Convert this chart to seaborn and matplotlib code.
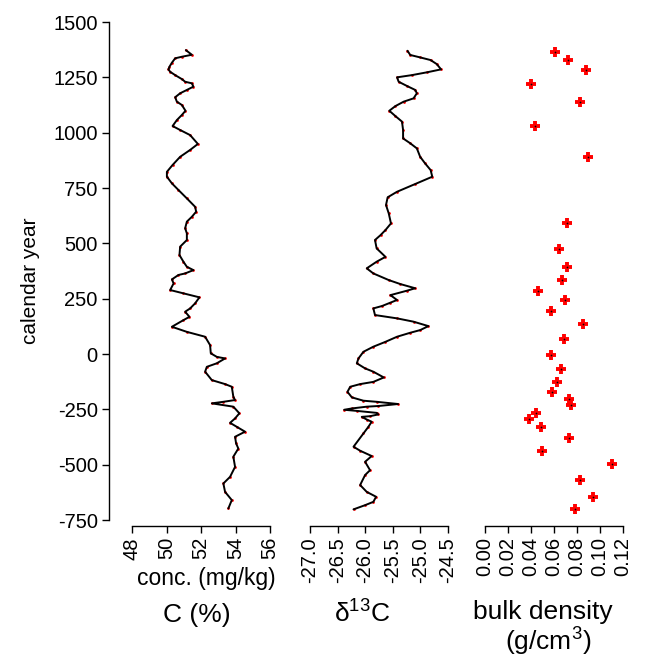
import numpy as np
import pandas as pd
import matplotlib
matplotlib.use("Agg")
import matplotlib.pyplot as plt
import seaborn as sns
from matplotlib.ticker import FormatStrFormatter

# ---------------- data ----------------
c_year = [1373, 1352, 1343, 1336, 1316, 1298, 1286, 1275, 1260, 1242, 1230, 1223, 1208, 1193,
          1178, 1160, 1140, 1125, 1099, 1080, 1057, 1030, 1012, 989, 949, 922, 891, 854, 823,
          801, 771, 741, 703, 665, 643, 620, 598, 568, 545, 515, 485, 447, 417, 394, 379, 364,
          357, 337, 319, 289, 274, 256, 229, 206, 191, 168, 153, 123, 100, 78, 40, 3, -13, -20,
          -42, -58, -80, -118, -136, -148, -193, -208, -216, -223, -238, -268, -291, -311, -329,
          -351, -374, -404, -427, -464, -510, -555, -585, -623, -660, -698]
c_pct = [51.11, 51.46, 50.88, 50.49, 50.30, 50.16, 50.10, 50.20, 50.49, 50.88, 51.07, 51.46,
         51.55, 51.17, 50.78, 50.49, 50.59, 50.88, 51.09, 50.88, 50.59, 50.34, 50.78, 51.36,
         51.81, 51.36, 50.78, 50.34, 50.01, 50.01, 50.30, 50.68, 51.17, 51.65, 51.71, 51.46,
         51.17, 51.07, 51.17, 51.17, 50.78, 50.74, 50.97, 51.17, 51.55, 51.07, 50.68, 50.30,
         50.40, 50.20, 50.97, 51.90, 51.65, 51.36, 51.07, 51.32, 50.97, 50.30, 51.17, 52.23,
         52.52, 52.56, 52.91, 53.39, 52.91, 52.33, 52.23, 52.62, 53.39, 53.78, 53.87, 53.97,
         53.29, 52.62, 53.87, 54.22, 53.97, 53.68, 54.07, 54.55, 53.97, 54.03, 54.16, 53.87,
         53.97, 53.68, 53.29, 53.39, 53.78, 53.58]

d_year = [1370, 1351, 1340, 1328, 1310, 1286, 1273, 1260, 1250, 1230, 1211, 1193, 1178, 1155,
          1140, 1120, 1099, 1075, 1050, 1012, 974, 952, 929, 891, 861, 831, 801, 768, 733, 708,
          673, 635, 590, 560, 537, 515, 477, 439, 417, 387, 364, 334, 316, 297, 286, 266, 244,
          232, 217, 206, 176, 161, 146, 126, 108, 96, 78, 55, 33, 10, -20, -42, -65, -80, -106,
          -126, -136, -148, -171, -196, -211, -216, -226, -235, -238, -246, -252, -257, -266,
          -273, -281, -284, -296, -306, -329, -359, -419, -437, -461, -487, -525, -547, -592,
          -623, -645, -668, -683, -702]
d13c = [-25.23, -25.18, -25.00, -24.81, -24.70, -24.62, -24.87, -25.15, -25.42, -25.39, -25.24,
        -25.09, -25.06, -25.12, -25.30, -25.45, -25.56, -25.45, -25.33, -25.31, -25.31, -25.18,
        -25.06, -25.00, -24.91, -24.81, -24.78, -25.09, -25.42, -25.59, -25.62, -25.57, -25.53,
        -25.63, -25.72, -25.82, -25.79, -25.63, -25.79, -25.97, -25.85, -25.57, -25.36, -25.09,
        -25.24, -25.54, -25.42, -25.54, -25.69, -25.85, -25.82, -25.42, -25.12, -24.85, -25.00,
        -25.18, -25.42, -25.63, -25.85, -26.03, -26.12, -26.15, -26.00, -25.85, -25.66, -25.85,
        -26.09, -26.27, -26.32, -26.24, -26.03, -25.79, -25.40, -25.76, -25.97, -26.24, -26.38,
        -26.15, -25.79, -25.76, -25.91, -26.06, -25.97, -25.88, -25.94, -26.03, -26.21, -26.09,
        -25.88, -26.00, -25.91, -26.00, -26.09, -25.97, -25.80, -25.85, -26.00, -26.21]

bd_year = [1366, 1328, 1282, 1221, 1138, 1029, 889, 592, 476, 391, 334, 284, 242, 193, 135, 66,
           -5, -70, -127, -172, -204, -232, -268, -295, -330, -379, -436, -499, -570, -645, -702]
bd = [0.0610, 0.0721, 0.0880, 0.0401, 0.0828, 0.0436, 0.0900, 0.0715, 0.0642, 0.0717, 0.0668,
      0.0465, 0.0700, 0.0578, 0.0851, 0.0691, 0.0578, 0.0665, 0.0630, 0.0584, 0.0729, 0.0749,
      0.0444, 0.0386, 0.0488, 0.0735, 0.0500, 0.1110, 0.0825, 0.0938, 0.0787]

c_ticks = [48, 50, 52, 54, 56]
d_ticks = [-27.0, -26.5, -26.0, -25.5, -25.0, -24.5]
bd_ticks = [0.00, 0.02, 0.04, 0.06, 0.08, 0.10, 0.12]
y_ticks = [-750, -500, -250, 0, 250, 500, 750, 1000, 1250, 1500]

# ---------------- style ----------------
sns.set_theme(style="white")
plt.rcParams['font.family'] = ['Liberation Sans', 'DejaVu Sans']
plt.rcParams['mathtext.fontset'] = 'custom'
plt.rcParams['mathtext.rm'] = 'Liberation Sans'
plt.rcParams['mathtext.it'] = 'Liberation Sans:italic'
plt.rcParams['mathtext.bf'] = 'Liberation Sans:bold'
plt.rcParams['axes.unicode_minus'] = False
plt.rcParams['text.color'] = 'black'
plt.rcParams['axes.labelcolor'] = 'black'
plt.rcParams['xtick.color'] = 'black'
plt.rcParams['ytick.color'] = 'black'

W, H = 646, 658
fig = plt.figure(figsize=(W / 100, H / 100), dpi=100)

top_px, bot_px = 22, 526
ax_bottom = (H - bot_px) / H
ax_height = (bot_px - top_px) / H
px_per_unit = (520 - 22) / 2250.0
ylow = -750 - (bot_px - 520) / px_per_unit

panel_left_px = [132.3, 310.0, 485.0]
panel_w_px = 137.7

axes = []
for lp in panel_left_px:
    ax = fig.add_axes([lp / W, ax_bottom, panel_w_px / W, ax_height])
    ax.set_facecolor('white')
    axes.append(ax)

df_c = pd.DataFrame({'year': c_year, 'val': c_pct})
df_d = pd.DataFrame({'year': d_year, 'val': d13c})
df_b = pd.DataFrame({'year': bd_year, 'val': bd})

# panel 1
ax = axes[0]
sns.scatterplot(data=df_c, x='val', y='year', ax=ax, color='red', s=4, linewidth=0, zorder=2)
sns.lineplot(data=df_c, x='val', y='year', ax=ax, sort=False, estimator=None,
             color='black', lw=1.4, zorder=3)
ax.set_xlim(48, 56)
ax.set_xticks(c_ticks)
ax.xaxis.set_major_formatter(FormatStrFormatter('%d'))

# panel 2
ax = axes[1]
sns.scatterplot(data=df_d, x='val', y='year', ax=ax, color='red', s=4, linewidth=0, zorder=2)
sns.lineplot(data=df_d, x='val', y='year', ax=ax, sort=False, estimator=None,
             color='black', lw=1.4, zorder=3)
ax.set_xlim(-27.0, -24.5)
ax.set_xticks(d_ticks)
ax.xaxis.set_major_formatter(FormatStrFormatter('%.1f'))

# panel 3
ax = axes[2]
sns.scatterplot(data=df_b, x='val', y='year', ax=ax, color='red', marker='+', s=60,
                linewidth=2.8, zorder=2)
sns.scatterplot(data=df_b, x='val', y='year', ax=ax, color='black', s=1.5, linewidth=0, zorder=3)
ax.set_xlim(0, 0.12)
ax.set_xticks(bd_ticks)
ax.xaxis.set_major_formatter(FormatStrFormatter('%.2f'))

for i, ax in enumerate(axes):
    ax.set_ylim(ylow, 1500)
    ax.set_xlabel('')
    ax.set_ylabel('')
    for s in ['top', 'right']:
        ax.spines[s].set_visible(False)
    ax.spines['bottom'].set_color('black')
    ax.spines['bottom'].set_linewidth(1.0)
    ax.tick_params(axis='x', direction='out', length=5, width=1.0, color='black',
                   labelsize=14.5, labelrotation=90, pad=3, bottom=True, labelcolor='black')
    if i == 0:
        ax.spines['left'].set_color('black')
        ax.spines['left'].set_linewidth(1.0)
        ax.spines['left'].set_position(('outward', 16.8))
        ax.spines['left'].set_bounds(-750, 1500)
        ax.set_yticks(y_ticks)
        ax.tick_params(axis='y', direction='out', length=5, width=1.0, color='black',
                       labelsize=14.5, pad=3, left=True, labelcolor='black')
    else:
        ax.spines['left'].set_visible(False)
        ax.set_yticks([])

# texts
def fy(p):
    return 1 - p / H

fig.text(30 / W, fy(281), 'calendar year', rotation=90, ha='center', va='center', fontsize=15)
fig.text(206 / W, fy(578), 'conc. (mg/kg)', ha='center', va='center', fontsize=16.5)
fig.text(197 / W, fy(615), 'C (%)', ha='center', va='center', fontsize=19)
fig.text(362 / W, fy(614), r'$\mathrm{\delta}^{13}$C', ha='center', va='center', fontsize=19)
fig.text(543 / W, fy(612), 'bulk density', ha='center', va='center', fontsize=19)
fig.text(548 / W, fy(642), r'(g/cm$^{3}$)', ha='center', va='center', fontsize=19)

fig.savefig('out.png', dpi=100, facecolor='white')
